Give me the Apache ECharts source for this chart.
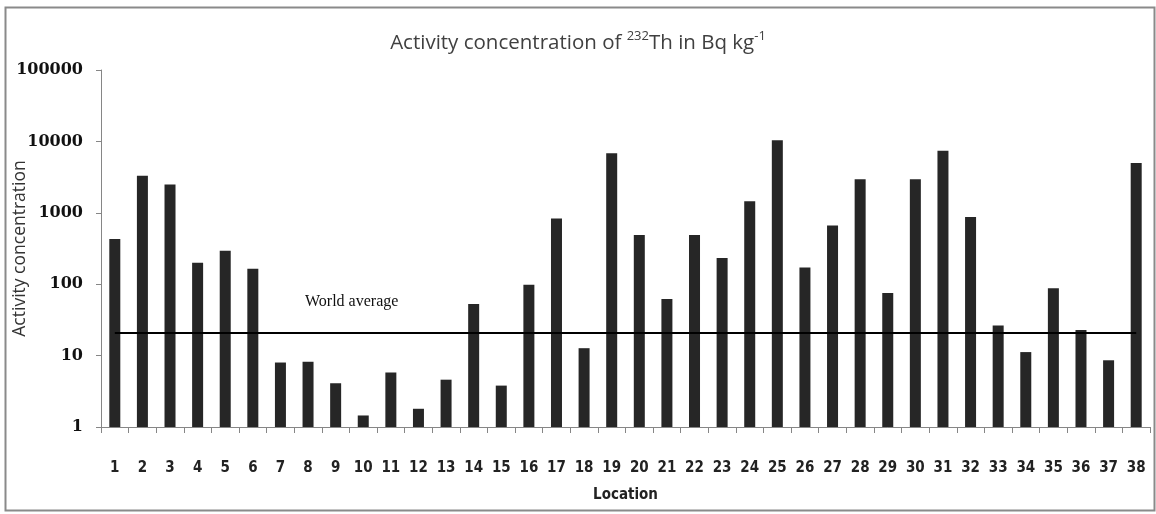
<!DOCTYPE html>
<html>
<head>
<meta charset="utf-8">
<script src="https://cdn.jsdelivr.net/npm/echarts@6/dist/echarts.min.js"></script>
<style>
  html, body { margin: 0; padding: 0; background: #fff; }
  #chart { width: 1156px; height: 514px; }
</style>
</head>
<body>
<div id="chart"></div>
<script>
// locations 1..38
const locations = ['1','2','3','4','5','6','7','8','9','10','11','12','13','14','15','16','17','18','19',
  '20','21','22','23','24','25','26','27','28','29','30','31','32','33','34','35','36','37','38']
const thValues = [430, 3300, 2500, 200, 295, 165, 8, 8.2, 4.1, 1.45, 5.8, 1.8, 4.6, 53, 3.8, 98, 830,
  12.7, 6800, 490, 62, 490, 232, 1450, 10400, 172, 665, 2950, 75, 2950, 7400, 870, 26.5, 11.2, 88, 22.8, 8.6, 5000]
const worldAverage = 21
const yTicks = [1, 10, 100, 1000, 10000, 100000]

const chart = echarts.init(document.getElementById('chart'))

const option = {
  animation: false,
  backgroundColor: '#fff',
  title: {
    text: 'Activity concentration of {sup|232}Th in Bq kg{sup|-1}',
    left: 'center',
    top: 25,
    textStyle: {
      fontFamily: 'Open Sans',
      fontSize: 20.5,
      fontWeight: 'normal',
      color: '#404040',
      lineHeight: 26,
      rich: {
        sup: { fontFamily: 'Open Sans', fontSize: 13, color: '#404040', verticalAlign: 'top', lineHeight: 26 }
      }
    }
  },
  graphic: [
    {
      type: 'rect',
      left: 3, top: 5,
      shape: { width: 1149, height: 503 },
      style: { fill: 'none', stroke: '#8a8a8a', lineWidth: 2 }
    },
    {
      type: 'text',
      left: 305, top: 294,
      style: { text: 'World average', font: '16px "Liberation Serif", serif', fill: '#111' }
    }
  ],
  grid: { left: 101, right: 6, top: 70, bottom: 87, outerBoundsMode: 'none' },
  xAxis: {
    type: 'category',
    data: locations,
    name: 'Location',
    nameLocation: 'middle',
    nameGap: 61,
    nameMoveOverlap: false,
    nameTextStyle: { fontFamily: '"Liberation Sans Narrow", "DejaVu Sans Condensed", sans-serif', fontWeight: 'bold', fontSize: 15, color: '#222' },
    axisLine: { lineStyle: { color: '#868686', width: 1 } },
    axisTick: { show: true, alignWithLabel: false, length: 6, lineStyle: { color: '#868686' } },
    axisLabel: {
      margin: 34,
      interval: 0,
      fontFamily: '"Liberation Sans Narrow", "DejaVu Sans Condensed", sans-serif',
      fontWeight: 'bold',
      fontSize: 15,
      color: '#222'
    }
  },
  yAxis: {
    type: 'log',
    logBase: 10,
    min: yTicks[0],
    max: yTicks[yTicks.length - 1],
    name: 'Activity concentration',
    nameLocation: 'middle',
    nameGap: 72,
    nameMoveOverlap: false,
    nameTextStyle: { fontFamily: 'Open Sans', fontSize: 17.5, color: '#333' },
    axisLine: { show: true, lineStyle: { color: '#868686', width: 1 } },
    axisTick: { show: true, length: 5, lineStyle: { color: '#868686' } },
    splitLine: { show: false },
    minorTick: { show: false },
    axisLabel: {
      margin: 18,
      fontFamily: '"DejaVu Serif", serif',
      fontWeight: 'bold',
      fontSize: 16,
      color: '#111',
      formatter: v => String(Math.round(v))
    }
  },
  series: [
    {
      type: 'bar',
      data: thValues,
      barWidth: 11,
      itemStyle: { color: '#262626' },
      markLine: {
        silent: true,
        symbol: 'none',
        label: { show: false },
        lineStyle: { color: '#000', width: 2, type: 'solid' },
        data: [[
          { xAxis: locations[0], yAxis: worldAverage },
          { xAxis: locations[locations.length - 1], yAxis: worldAverage }
        ]]
      }
    }
  ]
}

chart.setOption(option)
window.addEventListener('resize', () => chart.resize())
</script>
</body>
</html>
